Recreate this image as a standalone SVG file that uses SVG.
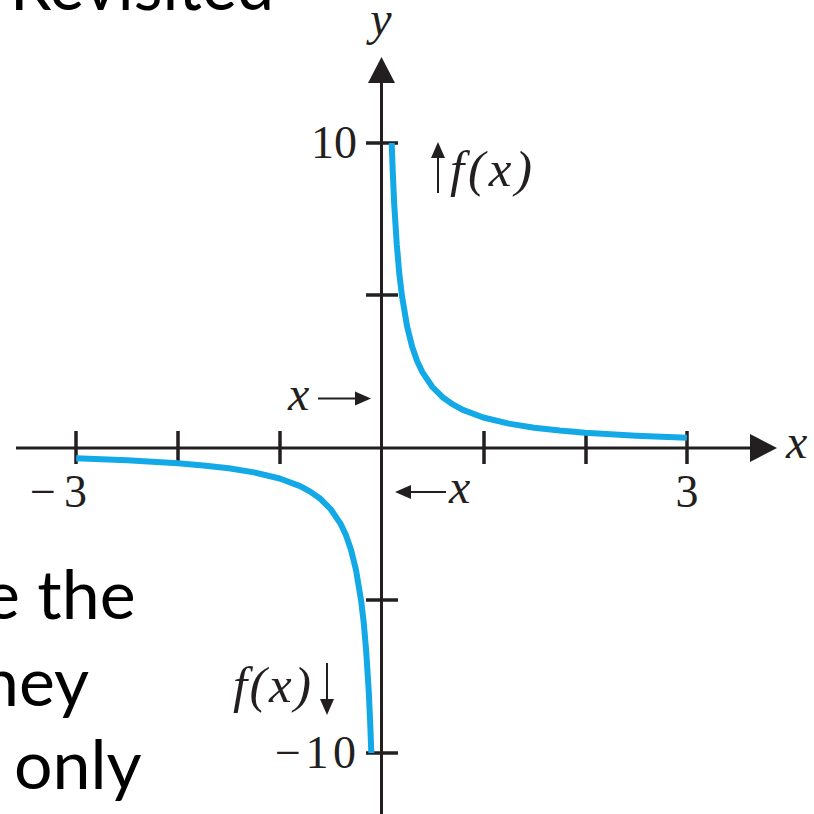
<svg xmlns="http://www.w3.org/2000/svg" width="814" height="814" viewBox="0 0 814 814">
<style>
.slide{font-family:Lato,"Open Sans","Noto Sans",sans-serif;fill:#000}
.ax{stroke:#231f20;stroke-width:3;fill:none}
.tk{stroke:#231f20;stroke-width:3.5}
.num{font-family:"Liberation Serif","DejaVu Serif",serif;font-size:46px;fill:#231f20}
.it{font-family:"Liberation Serif","DejaVu Serif",serif;font-style:italic;font-size:48px;fill:#231f20}
.fx{font-size:51px}
.curve{stroke:#12a9e6;stroke-width:6;fill:none;stroke-linejoin:round;stroke-linecap:butt}
.sm{stroke:#231f20;stroke-width:2;fill:none}
.hd{fill:#231f20}
</style>
<rect width="814" height="814" fill="#fff"/>
<g id="slide-text">
<text class="slide" x="10" y="10" font-size="70" textLength="264" lengthAdjust="spacingAndGlyphs">Revisited</text>
<text class="slide" x="-16" y="619" font-size="68">e the</text>
<text class="slide" x="-19" y="706" font-size="68">hey</text>
<text class="slide" x="14" y="789" font-size="68">only</text>
</g>
<g id="axes">
<line class="ax" x1="16" y1="448" x2="752" y2="448"/>
<polygon class="hd" points="777,448 750,434 750,462"/>
<line class="ax" x1="381.5" y1="814" x2="381.5" y2="80"/>
<polygon class="hd" points="381.5,57 368,83 395,83"/>
<g id="ticks">
<line class="tk" x1="76" y1="431" x2="76" y2="464"/>
<line class="tk" x1="178" y1="431" x2="178" y2="464"/>
<line class="tk" x1="280" y1="431" x2="280" y2="464"/>
<line class="tk" x1="484" y1="431" x2="484" y2="464"/>
<line class="tk" x1="586" y1="431" x2="586" y2="464"/>
<line class="tk" x1="687" y1="431" x2="687" y2="464"/>
<line class="tk" x1="366" y1="143" x2="398" y2="143"/>
<line class="tk" x1="366" y1="295" x2="398" y2="295"/>
<line class="tk" x1="366" y1="600" x2="398" y2="600"/>
<line class="tk" x1="366" y1="753" x2="398" y2="753"/>
</g>
</g>
<g id="labels">
<text class="it" x="381" y="35" text-anchor="middle">y</text>
<text class="it" x="786" y="458">x</text>
<text class="num" x="357" y="158" text-anchor="end">10</text>
<text class="num" x="275" y="768" textLength="81" lengthAdjust="spacing">−10</text>
<text class="num" x="30" y="507" textLength="57" lengthAdjust="spacing">−3</text>
<text class="num" x="687" y="507" text-anchor="middle">3</text>
</g>
<g id="curve">
<polyline class="curve" points="391.7,143 392.7,170.7 394.2,204 396.8,244.7 399.3,273.7 401.9,295.5 407,326 412,346.3 417.1,360.9 422.2,371.8 432.4,387 442.6,397.2 452.8,404.4 462.9,409.9 483.3,417.5 508.8,423.6 534.2,427.7 559.7,430.6 585.1,432.8 636,435.8 686.9,437.8"/>
<polyline class="curve" points="371.3,753 370.3,725.3 368.8,692 366.2,651.3 363.7,622.3 361.1,600.5 356,570 351,549.7 345.9,535.1 340.8,524.2 330.6,509 320.4,498.8 310.2,491.6 300.1,486.1 279.7,478.5 254.2,472.4 228.8,468.3 203.3,465.4 177.9,463.2 127,460.2 76.1,458.2"/>
</g>
<g id="annotations">
<g id="ann-fx-up">
<line class="sm" x1="438" y1="193" x2="438" y2="155"/>
<polygon class="hd" points="438,142 431,158 445,158"/>
<text class="it fx" x="450" y="186" textLength="82" lengthAdjust="spacing">f(x)</text>
</g>
<g id="ann-x-right">
<text class="it" x="288" y="410">x</text>
<line class="sm" x1="318" y1="398.5" x2="358" y2="398.5"/>
<polygon class="hd" points="371,398.5 355,391.5 355,405.5"/>
</g>
<g id="ann-x-left">
<line class="sm" x1="407" y1="492" x2="446" y2="492"/>
<polygon class="hd" points="395,492 411,485 411,499"/>
<text class="it" x="449" y="503">x</text>
</g>
<g id="ann-fx-down">
<text class="it fx" x="233" y="702" textLength="78" lengthAdjust="spacing">f(x)</text>
<line class="sm" x1="327" y1="663" x2="327" y2="702"/>
<polygon class="hd" points="327,715 320,699 334,699"/>
</g>
</g>
</svg>
